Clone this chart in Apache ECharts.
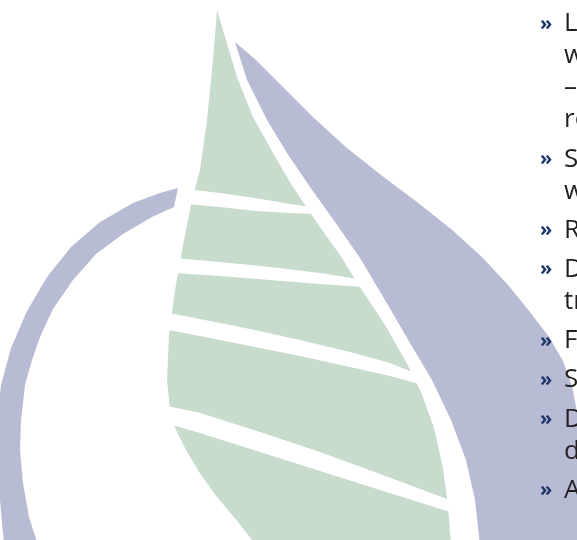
<!DOCTYPE html>
<html>
<head>
<meta charset="utf-8">
<script src="https://cdn.jsdelivr.net/npm/echarts@6/dist/echarts.min.js"></script>
<style>
html,body{margin:0;padding:0;background:#fff;}
#chart{width:577px;height:540px;}
</style>
</head>
<body>
<div id="chart"></div>
<script>
// Outline of the green leaf (x, y in picture units)
const leafOutline = [[217,10],[225,37],[237,77],[253,117],[273,153],[293,187],[315,220],[340,255],[362,290],[385,325],[405,360],[421,392],[434,428],[443,468],[448,505],[451,545],[256,545],[238,522],[217,497],[199,472],[186,450],[176,430],[170,410],[167,380],[169,335],[175,290],[183,245],[192,200],[200,170],[207,120],[213,60]];
// Purple drop
const dropOutline = [[235,42],[256,60],[285,89],[315,119],[347,148],[381,175],[417,202],[451,229],[482,257],[508,285],[530,312],[549,337],[563,361],[572,386],[577,412],[579,545],[480,545],[475,500],[466,460],[451,420],[432,380],[410,343],[385,300],[360,258],[335,222],[310,187],[287,153],[267,120],[247,80]];
// Purple arc
const arcOutline = [[178,188],[160,193],[133,203],[100,222],[71,247],[47,277],[27,311],[11,348],[1,385],[-3,420],[-3,460],[0,500],[4,545],[38,545],[29,517],[23,483],[20,450],[21,420],[25,385],[32,360],[40,337],[53,309],[73,280],[96,254],[123,234],[152,217],[174,207]];
// White stripes across the leaf
const stripe1 = [[186,189],[220,193],[255,198],[290,204],[316,208],[316,214],[290,213],[255,211],[220,207],[186,204]];
const stripe2 = [[174,258],[220,262],[270,267],[320,273],[364,280],[364,287],[320,284],[270,280],[220,276],[174,273]];
const stripe3 = [[163,312],[200,319],[250,329],[300,340],[350,352],[390,363],[427,378],[427,386],[390,376],[350,367],[300,356],[250,346],[200,336],[163,329]];
const stripe4 = [[163,405],[200,413],[260,432],[320,452],[380,474],[450,500],[450,512],[380,490],[320,471],[260,452],[200,433],[165,423]];

// Bullet text (visible part, cut at the right edge)
const paragraphs = [["L","w","–","re"],["S","w"],["R"],["D","tr"],["F"],["S"],["D","d"],["A"]];

const COL_PURPLE = '#b8bbd4';
const COL_GREEN = '#c8dccd';

// layout constants
const firstBaseline = 31, lineStep = 32, paraStep = 39.2;
const bulletX = 540, textX = 564;

const textLines = [];
let yb = firstBaseline;
paragraphs.forEach((p, pi) => {
  if (pi > 0) yb += paraStep - lineStep;
  p.forEach((t, li) => {
    if (pi > 0 || li > 0) yb += lineStep;
    textLines.push({ text: t, bullet: li === 0, y: yb });
  });
});

function polySeries(points, color, z) {
  return {
    type: 'custom', coordinateSystem: 'cartesian2d', silent: true, clip: false, z: z,
    data: [0],
    renderItem: (params, api) => ({
      type: 'polygon',
      shape: { points: points.map(p => api.coord(p)) },
      style: { fill: color }
    })
  };
}

const chart = echarts.init(document.getElementById('chart'), null, { renderer: 'canvas' });
chart.setOption({
  animation: false,
  backgroundColor: '#ffffff',
  grid: { left: 0, right: 0, top: 0, bottom: 0 },
  xAxis: { type: 'value', min: 0, max: 577, show: false },
  yAxis: { type: 'value', min: 0, max: 540, inverse: true, show: false },
  series: [
    polySeries(dropOutline, COL_PURPLE, 1),
    polySeries(leafOutline, COL_GREEN, 2),
    polySeries(stripe1, '#ffffff', 3),
    polySeries(stripe2, '#ffffff', 3),
    polySeries(stripe3, '#ffffff', 3),
    polySeries(stripe4, '#ffffff', 3),
    polySeries(arcOutline, COL_PURPLE, 4),
    {
      type: 'custom', coordinateSystem: 'cartesian2d', silent: true, clip: false, z: 5,
      data: textLines.map((l, i) => [textX, l.y, i]),
      renderItem: (params, api) => {
        const l = textLines[api.value(2)];
        const p = api.coord([api.value(0), api.value(1)]);
        const b = api.coord([bulletX, api.value(1)]);
        const children = [{
          type: 'text', x: p[0], y: p[1] - 7,
          style: { text: l.text, fill: '#231f20', font: '26px "Open Sans"', align: 'left', verticalAlign: 'middle' }
        }];
        if (l.bullet) {
          children.push({
            type: 'text', x: b[0], y: b[1] - 7,
            style: { text: '»', fill: '#1d3868', font: 'bold 20px "Open Sans"', align: 'left', verticalAlign: 'middle' }
          });
        }
        return { type: 'group', children };
      }
    }
  ]
});
</script>
</body>
</html>
